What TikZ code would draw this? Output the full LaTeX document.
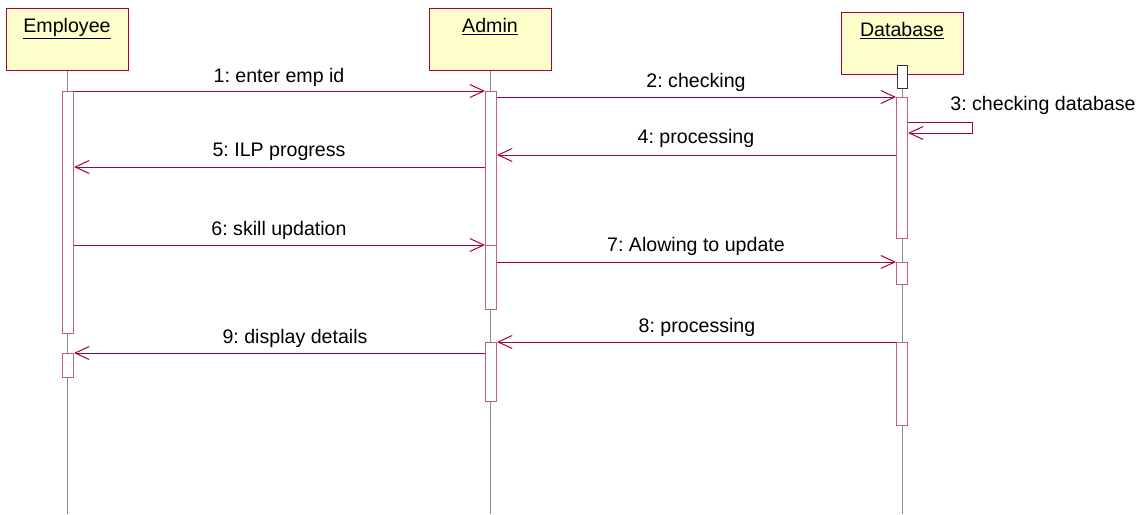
\documentclass[tikz,border=0pt]{standalone}
\usepackage{fontspec}
\setmainfont{Liberation Sans}
\usepackage{tikz}
\usetikzlibrary{arrows.meta}
\definecolor{umlred}{HTML}{A3003D}
\definecolor{actred}{HTML}{C4607F}
\definecolor{headfill}{HTML}{FFFFCC}
\definecolor{lifegray}{HTML}{8C8C8C}
\frenchspacing

\begin{document}
\begin{tikzpicture}[x=1pt,y=-1pt,font=\fontsize{19.6}{23}\selectfont,
    head/.style={draw=umlred,fill=headfill,line width=1pt,anchor=north,
      minimum width=122pt,minimum height=52pt,inner ysep=10pt,
      text height=14pt,text depth=28pt},
    act/.style={draw=actred,fill=white,line width=1pt,anchor=north,
      minimum width=11pt,inner sep=0pt},
    msg/.style={umlred,line width=1pt,-{Straight Barb[length=14pt,width=13pt]}},
    lifeline/.style={lifegray,line width=1pt},
    lbl/.style={anchor=base,inner sep=0pt}]
  \useasboundingbox (0,0) rectangle (1145,514);
  \coordinate (bottom) at (0,514);
  % heads
  \node[head] (emp) at (67,8) {\underline{Employee}};
  \node[head] (adm) at (490,8) {\underline{Admin}};
  \node[head] (dbs) at (902,12) {\underline{Database}};
  % lifelines
  \foreach \h in {emp,adm,dbs}
    \draw[lifeline] (\h.south) -- (\h.south |- bottom);
  % activations
  \node[act,minimum height=242pt] (e1) at (68,91) {};
  \node[act,minimum height=24pt]  (e2) at (68,353) {};
  \node[act,minimum height=154pt] (a1) at (491,91) {};
  \node[act,minimum height=64pt]  (a2) at (491,245) {};
  \node[act,minimum height=59pt]  (a3) at (491,342) {};
  \node[act,draw=black!80,minimum width=10pt,minimum height=23pt] (d0) at (902,65) {};
  \node[act,minimum height=141pt] (d1) at (902,97) {};
  \node[act,minimum height=22pt]  (d2) at (902,262) {};
  \node[act,minimum height=83pt]  (d3) at (902,342) {};
  % messages
  \draw[msg] (e1.north east) -- (a1.north west);
  \draw[msg] (a1.east |- d1.north) -- (d1.north west);
  \coordinate (m3) at ([yshift=-25pt]d1.north east);
  \coordinate (r3) at ([yshift=-36pt]d1.north east);
  \draw[msg] (m3) -- ++(64,0) -- ++(0,11) -- (r3);
  \coordinate (m4) at ([yshift=-58pt]d1.north west);
  \draw[msg] (m4) -- (a1.east |- m4);
  \coordinate (m5) at ([yshift=-76pt]a1.north west);
  \draw[msg] (m5) -- (e1.east |- m5);
  \draw[msg] (e1.east |- a2.north) -- (a2.north west);
  \draw[msg] (a2.east |- d2.north) -- (d2.north west);
  \draw[msg] (d3.north west) -- (a3.north east);
  \draw[msg] (a3.west |- e2.north) -- (e2.north east);
  % labels
  \node[lbl] (l1) at (279,82)  {1: enter emp id};
  \node[lbl] (l2) at (696,87)  {2: checking};
  \node[lbl] (l3) at (1043,110) {3: checking database};
  \node[lbl] (l4) at (696,143) {4: processing};
  \node[lbl] (l5) at (279,156) {5: ILP progress};
  \node[lbl] (l6) at (279,235) {6: skill updation};
  \node[lbl] (l7) at (696,251) {7: Alowing to update};
  \node[lbl] (l8) at (697,332) {8: processing};
  \node[lbl] (l9) at (295,343) {9: display details};
\end{tikzpicture}
\end{document}
